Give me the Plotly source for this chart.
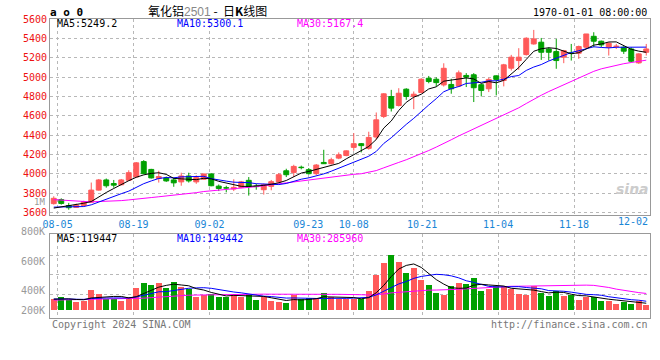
import numpy as np
import pandas as pd
import plotly.graph_objects as go

# ---------------- data ----------------
open_ = [3690, 3732, 3670, 3651, 3671, 3705, 3830, 3935, 3898, 3885,
         3932, 3966, 4125, 4044, 3950, 3956, 3935, 3915, 3976, 3915,
         3942, 3997, 3871, 3855, 3841, 3858, 3931, 3872, 3834, 3869,
         3914, 4030, 4013, 4067, 4041, 4000, 4116, 4103, 4161, 4188,
         4272, 4310, 4262, 4379, 4592, 4798, 4705, 4874, 4800, 4839,
         4987, 4977, 4918, 4923, 4906, 5016, 5023, 4920, 4878, 5012,
         4964, 5091, 5170, 5232, 5342, 5360, 5290, 5263, 5205, 5249,
         5246, 5308, 5421, 5370, 5308, 5316, 5308, 5290, 5146, 5256]
high = [3766, 3745, 3698, 3690, 3720, 3908, 3945, 3950, 3935, 3945,
        4035, 4120, 4140, 4050, 4030, 3970, 3960, 4010, 4010, 3983,
        4000, 4005, 3888, 3875, 3942, 3925, 3965, 3896, 3896, 3935,
        4006, 4051, 4092, 4083, 4058, 4100, 4247, 4165, 4220, 4240,
        4420, 4317, 4434, 4633, 4832, 4867, 4884, 4884, 4850, 4987,
        5011, 4997, 5142, 4982, 5067, 5040, 5040, 4930, 4992, 5016,
        5136, 5229, 5298, 5411, 5487, 5404, 5307, 5394, 5280, 5342,
        5325, 5445, 5463, 5377, 5360, 5342, 5318, 5307, 5246, 5342]
low = [3680, 3680, 3627, 3645, 3660, 3700, 3825, 3855, 3855, 3880,
       3925, 3960, 3995, 3950, 3908, 3915, 3864, 3875, 3908, 3895,
       3935, 3870, 3820, 3807, 3820, 3850, 3773, 3834, 3783, 3828,
       3903, 3965, 3965, 4045, 3990, 3985, 4100, 4095, 4150, 4180,
       4238, 4220, 4248, 4351, 4575, 4643, 4695, 4764, 4667, 4832,
       4935, 4901, 4901, 4827, 4896, 4896, 4741, 4799, 4844, 4810,
       4903, 5067, 5074, 5222, 5335, 5177, 5170, 5085, 5143, 5170,
       5188, 5291, 5308, 5308, 5222, 5290, 5239, 5153, 5136, 5222]
close = [3745, 3692, 3648, 3675, 3712, 3830, 3935, 3875, 3881, 3935,
         4010, 4112, 4000, 3956, 3970, 3925, 3905, 3976, 3925, 3959,
         3997, 3875, 3847, 3850, 3858, 3915, 3869, 3866, 3886, 3917,
         3989, 3989, 4075, 4062, 4000, 4089, 4103, 4144, 4195, 4236,
         4310, 4290, 4375, 4557, 4826, 4678, 4832, 4798, 4822, 4977,
         4953, 4942, 5090, 4878, 5043, 4999, 4889, 4861, 4975, 4975,
         5126, 5205, 5205, 5401, 5394, 5256, 5256, 5170, 5273, 5245,
         5315, 5445, 5370, 5332, 5349, 5320, 5267, 5163, 5239, 5290]
volume_k = [189, 218, 172, 144, 161, 342, 274, 195, 195, 161,
            218, 376, 466, 427, 466, 370, 477, 398, 359, 223,
            251, 274, 229, 229, 274, 229, 274, 172, 218, 161,
            144, 127, 251, 184, 206, 206, 291, 229, 184, 184,
            184, 184, 331, 596, 805, 935, 822, 636, 720, 511,
            427, 297, 257, 410, 466, 444, 545, 331, 353, 410,
            410, 353, 274, 257, 410, 285, 240, 331, 240, 257,
            172, 218, 218, 161, 161, 105, 144, 105, 150, 88]

# closes / volumes before the first visible day (estimated from the MA levels at the left edge)
pre_close = [3870, 3860, 3850, 3845, 3830, 3825, 3815, 3800, 3795, 3790, 3795, 3790,
             3750, 3730, 3710, 3695, 3680, 3670, 3660, 3641,
             3680, 3670, 3665, 3655, 3650, 3630, 3615, 3610, 3620]
pre_volume_k = [150, 160, 170, 155, 165, 175, 160, 150, 170, 165, 160, 170, 165, 155,
                175, 160, 165, 170, 160, 164, 180, 195, 190, 185, 200, 180, 190, 195, 186]

tick_labels = ['08-05', '08-19', '09-02', '09-23', '10-08', '10-21', '11-04', '11-18', '12-02']
tick_index = [1, 11, 21, 34, 40, 49, 59, 69, 79]
price_ticks = [3600, 3800, 4000, 4200, 4400, 4600, 4800, 5000, 5200, 5400, 5600]

ma_price_text = ['MA5:5249.2', 'MA10:5300.1', 'MA30:5167.4']
ma_vol_text = ['MA5:119447', 'MA10:149442', 'MA30:285960']
vol_axis_labels = ['800K', '600K', '400K', '200K']

# ---------------- derived ----------------
O = np.array(open_, float); H = np.array(high, float)
L = np.array(low, float); C = np.array(close, float)
V = np.array(volume_k, float) * 1000
n = len(C)
x = np.arange(n)
up = C >= O

full_c = pd.Series(list(pre_close) + list(close), dtype=float)
full_v = pd.Series([v * 1000 for v in pre_volume_k] + list(V), dtype=float)
k0 = len(pre_close)
ma_p = {w: full_c.rolling(w).mean().to_numpy()[k0:] for w in (5, 10, 30)}
ma_v = {w: full_v.rolling(w).mean().to_numpy()[k0:] for w in (5, 10, 30)}

RED = '#ff5a5a'
GREEN = '#00a000'
MA_COL = {5: '#000000', 10: '#0000ff', 30: '#ff00ff'}
MONO = 'DejaVu Sans Mono'

fig = go.Figure()

# wicks
for mask, col in ((up, RED), (~up, GREEN)):
    xs, ys = [], []
    for i in x[mask]:
        xs += [i, i, None]
        ys += [L[i], H[i], None]
    fig.add_trace(go.Scatter(x=xs, y=ys, mode='lines', line=dict(color=col, width=1),
                             xaxis='x', yaxis='y', hoverinfo='skip'))
# bodies
for mask, col in ((up, RED), (~up, GREEN)):
    fig.add_trace(go.Bar(x=x[mask], base=np.minimum(O, C)[mask], y=np.abs(C - O)[mask],
                         width=0.66, marker=dict(color=col, line=dict(color=col, width=1)),
                         xaxis='x', yaxis='y'))
# price MAs
for w in (30, 10, 5):
    fig.add_trace(go.Scatter(x=x, y=ma_p[w], mode='lines', line=dict(color=MA_COL[w], width=1),
                             xaxis='x', yaxis='y'))
# volume
fig.add_trace(go.Bar(x=x, y=V, width=0.8, marker=dict(color=[RED if u else GREEN for u in up],
                                                        line=dict(width=0)),
                     xaxis='x2', yaxis='y2'))
for w in (30, 10, 5):
    fig.add_trace(go.Scatter(x=x, y=ma_v[w], mode='lines', line=dict(color=MA_COL[w], width=1),
                             xaxis='x2', yaxis='y2'))

# ---------------- layout ----------------
W, Hh = 660, 360
ML, MR, MT, MB = 50, 10, 19, 42
PW, PH = W - ML - MR, Hh - MT - MB


def P(px, py):
    return (px - ML) / PW, (Hh - MB - py) / PH


tickvals = [k * n / (n - 1) - 0.5 for k in tick_index]
ticktext = tick_labels[:-1] + ['']

grid = dict(showgrid=True, gridcolor='#b8b8b8', griddash='dot', gridwidth=1,
            showline=True, mirror=True, linecolor='#999999', linewidth=1,
            zeroline=False, ticks='', automargin=False)

main_bottom = 1 - (215 - MT) / PH
vol_top = (Hh - MB - 234.3) / PH

fig.update_layout(
    width=W, height=Hh, margin=dict(l=ML, r=MR, t=MT, b=MB, autoexpand=False),
    paper_bgcolor='white', plot_bgcolor='white', showlegend=False,
    barmode='overlay', bargap=0,
    font=dict(family=MONO, size=10, color='#000000'),
    xaxis=dict(domain=[0, 1], range=[-0.5, n - 0.5], anchor='y', tickmode='array',
               tickvals=tickvals, ticktext=ticktext,
               tickfont=dict(color='#1a86d6', size=10, family=MONO), **grid),
    yaxis=dict(domain=[main_bottom, 1], range=[3572.4, 5600], anchor='x', tickmode='array',
               tickvals=price_ticks, tickfont=dict(color='#ee1111', size=10, family=MONO), **grid),
    xaxis2=dict(domain=[0, 1], range=[-0.5, n - 0.5], anchor='y2', matches='x', tickmode='array',
                tickvals=tickvals, showticklabels=False, **grid),
    yaxis2=dict(domain=[0, vol_top], range=[-132000, 1286000], anchor='x2', tickmode='array',
                tickvals=[269000, 597000, 924000], showticklabels=False, **grid),
)

ann = []


def text(px, py, s, color='#000000', size=10, anchor='left', family=MONO):
    ax, ay = P(px, py)
    ann.append(dict(x=ax, y=ay, xref='paper', yref='paper', text=s, showarrow=False,
                    xanchor=anchor, yanchor='middle', font=dict(color=color, size=size, family=family)))


text(48, 12, '<b>a o 0</b>', size=11)
text(207, 10, '氧化铝<span style="color:#888888;font-family:Liberation Sans">2501</span> -  日<b>K</b>线图',
     size=12, anchor='center', family='Noto Sans CJK SC')
text(649, 12, '1970-01-01 08:00:00', anchor='right')
for s, px, col in zip(ma_price_text, (55, 175, 295), ('#000000', '#0000ff', '#ff00ff')):
    text(px, 24, s, color=col)
for s, px, col in zip(ma_vol_text, (55, 175, 295), ('#000000', '#0000ff', '#ff00ff')):
    text(px, 238.5, s, color=col)
for s, py in zip(vol_axis_labels, (231, 261, 290.7, 310)):
    text(47, py, s, color='#999999', anchor='right')
text(47, 202, '1M', color='#999999', anchor='right', size=9)
text(649.5, 221.5, tick_labels[-1], color='#1a86d6', anchor='right')
text(50, 324, 'Copyright 2024 SINA.COM', color='#777777')
text(650, 324, 'http://finance.sina.com.cn', color='#777777', anchor='right')
text(632, 189, '<b><i>sina</i></b>', color='#cccccc', size=14, anchor='center', family='DejaVu Sans')

fig.update_layout(annotations=ann)
fig.write_html('out.html', config={'displayModeBar': False, 'staticPlot': True},
               post_script="document.body.style.margin='0px';")
